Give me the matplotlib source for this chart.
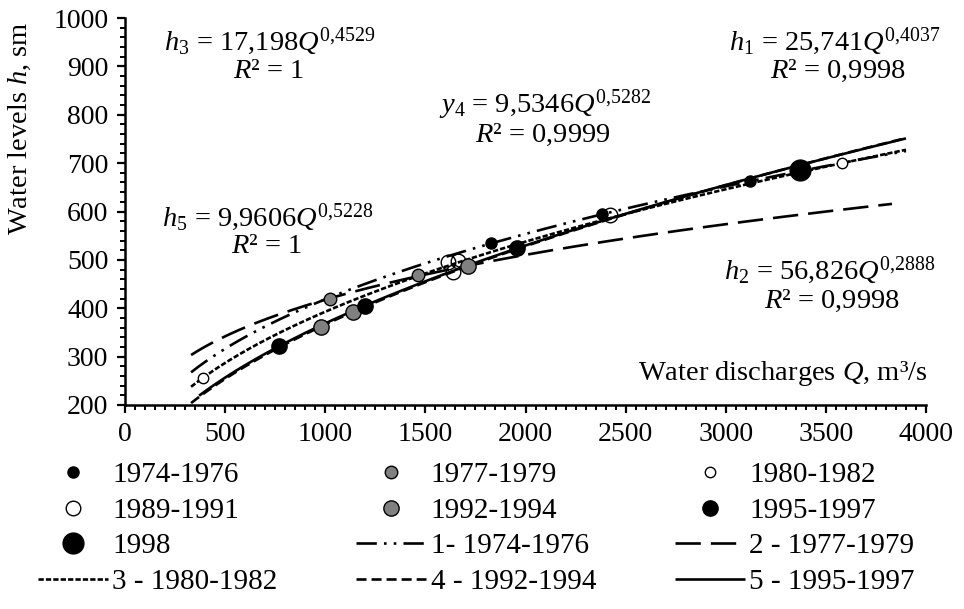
import numpy as np
import matplotlib
matplotlib.use("Agg")
import matplotlib.pyplot as plt
from matplotlib.ticker import MultipleLocator

plt.rcParams.update({
    "font.family": "serif",
    "font.serif": ["Liberation Serif", "DejaVu Serif"],
    "mathtext.fontset": "custom",
    "mathtext.rm": "Liberation Serif",
    "mathtext.it": "Liberation Serif:italic",
    "font.size": 20,
})

# observed points (Q, m3/s ; h, sm)
q_7476 = [1830, 2380, 3120]
h_7476 = [534, 594, 663]
q_7779 = [1025, 1465]
h_7779 = [420, 468]
q_8082 = [390, 3580]
h_8082 = [256, 700]
q_8991 = [1615, 1640, 1665, 2420]
h_8991 = [495, 474, 497, 593]
q_9294 = [980, 1140, 1715]
h_9294 = [362, 392, 488]
q_9597 = [770, 1200, 1960]
h_9597 = [322, 405, 525]
q_1998 = [3370]
h_1998 = [685]

# power trend lines h = a * Q^b
fit_a = [25.741, 56.826, 17.198, 9.5346, 9.9606]
fit_b = [0.4037, 0.2888, 0.4529, 0.5282, 0.5228]
fit_q_min = [330, 330, 330, 330, 370]
fit_q_max = [3900, 3830, 3900, 3900, 3900]
fit_labels = ["1- 1974-1976", "2 - 1977-1979", "3 - 1980-1982",
              "4 - 1992-1994", "5 - 1995-1997"]

fig = plt.figure(figsize=(9.64, 6.09), dpi=100)
ax = fig.add_axes([125 / 964, 1 - 405 / 609, (926 - 125) / 964, (405 - 18) / 609])

# trend lines
dash_styles = [(7.7, 2.7, 1, 2.7, 1, 2.7), (9.6, 3.8), (2.0, 0.8), (3.8, 1.9), None]
fit_handles = []
for a, b, q0, q1, lab, ds in zip(fit_a, fit_b, fit_q_min, fit_q_max, fit_labels, dash_styles):
    q = np.linspace(q0, q1, 300)
    line, = ax.plot(q, a * q ** b, color="black", lw=1.9, label=lab,
                    solid_capstyle="butt", dash_capstyle="butt", zorder=2)
    if ds is not None:
        line.set_dashes(ds)
    fit_handles.append(line)

# points
pt_style = dict(ls="none", mec="black", mew=1.0, zorder=3)
p1, = ax.plot(q_7476, h_7476, "o", mfc="black", ms=8, label="1974-1976", **pt_style)
p2, = ax.plot(q_7779, h_7779, "o", mfc="#808080", ms=9, label="1977-1979", **pt_style)
p3, = ax.plot(q_8082, h_8082, "o", mfc="white", ms=7.5, label="1980-1982", **pt_style)
p4, = ax.plot(q_8991, h_8991, "o", mfc="none", ms=10.5, label="1989-1991", **pt_style)
p5, = ax.plot(q_9294, h_9294, "o", mfc="#808080", ms=11, label="1992-1994", **pt_style)
p6, = ax.plot(q_9597, h_9597, "o", mfc="black", ms=11, label="1995-1997", **pt_style)
p7, = ax.plot(q_1998, h_1998, "o", mfc="black", ms=15, label="1998", **pt_style)

ax.set_xlim(0, 4000)
ax.set_ylim(200, 1000)
ax.xaxis.set_major_locator(MultipleLocator(500))
ax.xaxis.set_minor_locator(MultipleLocator(50))
ax.yaxis.set_major_locator(MultipleLocator(100))
ax.yaxis.set_minor_locator(MultipleLocator(20))
ax.tick_params(which="major", direction="out", length=6, width=1.6, pad=6)
ax.tick_params(which="minor", direction="out", length=3.5, width=1.4)
for s in ["top", "right"]:
    ax.spines[s].set_visible(False)
for s in ["left", "bottom"]:
    ax.spines[s].set_linewidth(1.8)

fig.text(20 / 964, 1 - 128 / 609, "Water levels $h$, sm", rotation=90,
         ha="center", va="center", fontsize=20.5)
fig.text(928 / 964, 1 - 374 / 609, "Water discharges $Q$, m³/s",
         ha="right", va="center", fontsize=20.5)

# equations
eqs = [
    (270, 37, "$h_3$ = 17,198$Q^{0{,}4529}$", 268, 68, "$R$² = 1"),
    (545, 100, "$y_4$ = 9,5346$Q^{0{,}5282}$", 543, 132, "$R$² = 0,9999"),
    (835, 37, "$h_1$ = 25,741$Q^{0{,}4037}$", 838, 68, "$R$² = 0,9998"),
    (268, 213, "$h_5$ = 9,9606$Q^{0{,}5228}$", 266, 243, "$R$² = 1"),
    (830, 266, "$h_2$ = 56,826$Q^{0{,}2888}$", 832, 298, "$R$² = 0,9998"),
]
for x1, y1, t1, x2, y2, t2 in eqs:
    fig.text(x1 / 964, 1 - y1 / 609, t1, ha="center", va="center_baseline", fontsize=20.5)
    fig.text(x2 / 964, 1 - y2 / 609, t2, ha="center", va="center_baseline", fontsize=20.5)

# legend in row order
handles = [p1, p2, p3, p4, p5, p6, p7] + fit_handles
order = [0, 3, 6, 9, 1, 4, 7, 10, 2, 5, 8, 11]
fig.legend([handles[i] for i in order], [handles[i].get_label() for i in order],
           loc="upper left", bbox_to_anchor=(38 / 964, 1 - 462 / 609), ncol=3, frameon=False,
           fontsize=21, handlelength=2.4, handletextpad=0.15, columnspacing=2.7,
           labelspacing=0.31, borderaxespad=0, borderpad=0)

fig.savefig("out.png", dpi=100)
